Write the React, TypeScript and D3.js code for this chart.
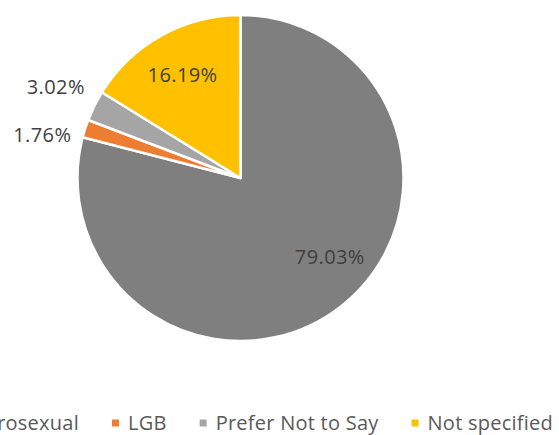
import React, { useEffect, useRef } from "react";
import * as d3 from "d3";

const categories = ["Heterosexual", "LGB", "Prefer Not to Say", "Not specified"];
const values = [79.03, 1.76, 3.02, 16.19];
const labels = ["79.03%", "1.76%", "3.02%", "16.19%"];
const colors = ["#7F7F7F", "#ED7D31", "#A5A5A5", "#FFC000"];

const W = 559;
const H = 435;
const FONT = "'Open Sans', sans-serif";

export default function App() {
  const ref = useRef<SVGSVGElement>(null);
  useEffect(() => {
    const svg = d3.select(ref.current);
    svg.selectAll("*").remove();
    const cx = 240.5, cy = 178, R = 163;
    const pie = d3.pie<number>().sort(null).value((d) => d);
    const arcs = pie(values);
    const arc = d3.arc<d3.PieArcDatum<number>>().innerRadius(0).outerRadius(R);
    const g = svg.append("g").attr("transform", `translate(${cx},${cy})`);
    g.selectAll("path")
      .data(arcs)
      .join("path")
      .attr("d", arc)
      .attr("fill", (_, i) => colors[i])
      .attr("stroke", "#fff")
      .attr("stroke-width", 2.5)
      .attr("stroke-linejoin", "round");

    const place = (a: d3.PieArcDatum<number>, i: number) => {
      const mid = (a.startAngle + a.endAngle) / 2;
      let r = 119, ang = mid;
      if (i === 0) ang = mid - 0.19;
      if (i === 1) { r = 203; ang = mid - 0.09; }
      if (i === 2) { r = 206; }
      return [r * Math.sin(ang), -r * Math.cos(ang)];
    };
    g.selectAll("text.lbl")
      .data(arcs)
      .join("text")
      .attr("class", "lbl")
      .attr("x", (d, i) => place(d, i)[0])
      .attr("y", (d, i) => place(d, i)[1])
      .attr("text-anchor", "middle")
      .attr("dominant-baseline", "central")
      .attr("font-family", FONT)
      .attr("font-size", 20)
      .attr("letter-spacing", 0.4)
      .attr("fill", "#404040")
      .text((_, i) => labels[i]);

    const lg = svg.append("g");
    const items = lg.selectAll("g").data(categories).join("g");
    items.append("rect").attr("width", 7).attr("height", 7).attr("y", 419.5).attr("fill", (_, i) => colors[i]);
    const texts = items
      .append("text")
      .attr("y", 422.5)
      .attr("dominant-baseline", "central")
      .attr("font-family", FONT)
      .attr("font-size", 20)
      .attr("letter-spacing", 0.25)
      .attr("fill", "#595959")
      .text((d) => d);
    const widths = texts.nodes().map((n) => (n as SVGTextElement).getComputedTextLength());
    const gap = 33;
    const pos: number[] = [];
    let x = 112 - (7 + 9 + widths[0] + gap);
    widths.forEach((w) => { pos.push(x); x += 7 + 9 + w + gap; });
    items.attr("transform", (_, i) => `translate(${pos[i]},0)`);
    texts.attr("x", 16);
  }, []);
  return (
    <svg ref={ref} width={W} height={H} style={{ position: "absolute", left: 0, top: 0, background: "#fff" }} />
  );
}
